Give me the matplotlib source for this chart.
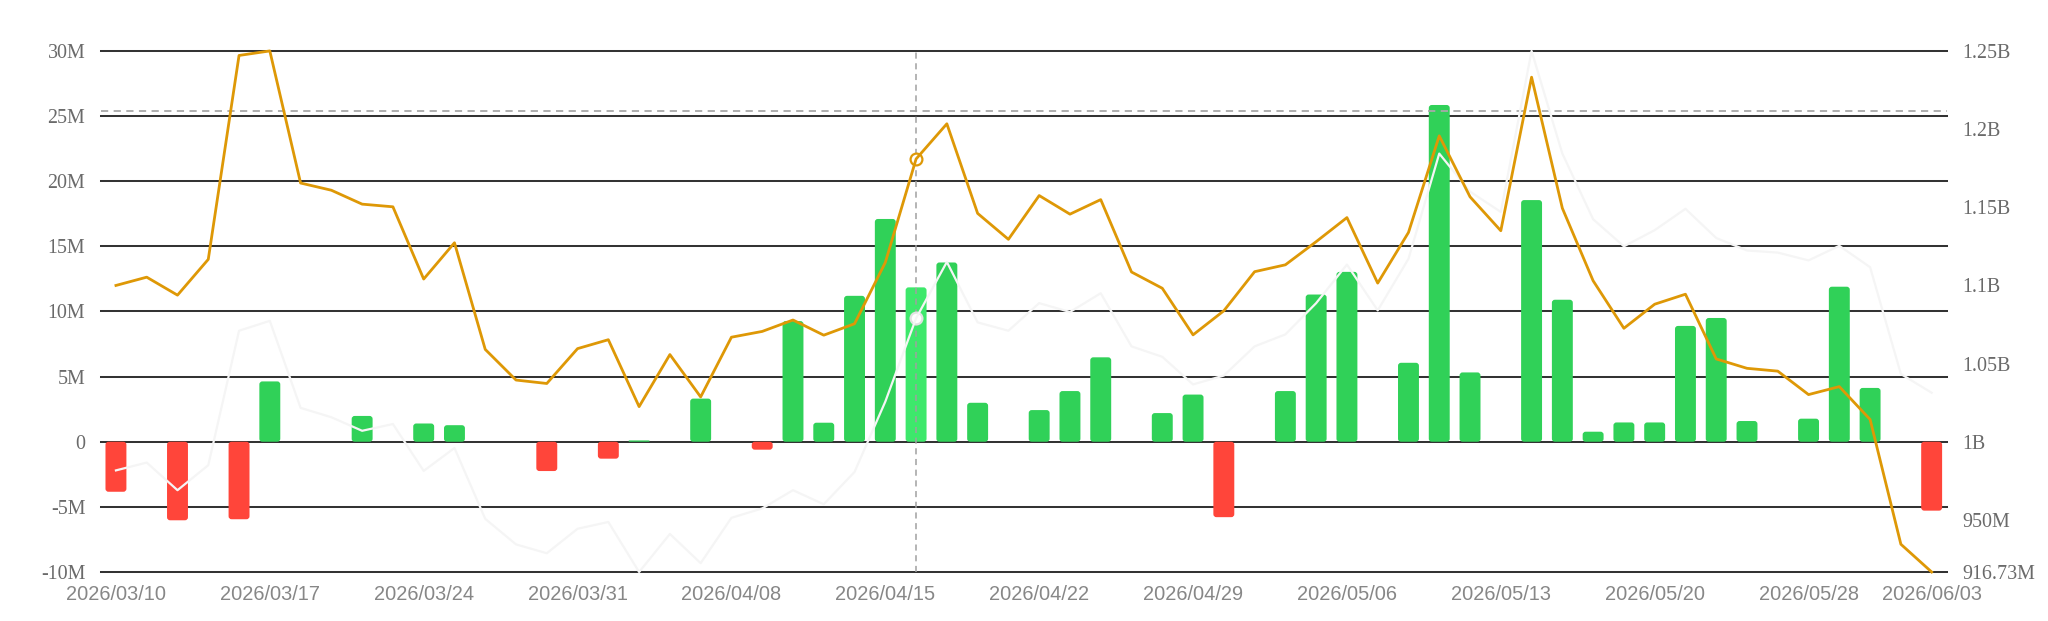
import matplotlib.pyplot as plt
from matplotlib.patches import FancyBboxPatch

# trading days shown on the category axis
dates = ['2026/03/10', '2026/03/11', '2026/03/12', '2026/03/13', '2026/03/16',
         '2026/03/17', '2026/03/18', '2026/03/19', '2026/03/20', '2026/03/23',
         '2026/03/24', '2026/03/25', '2026/03/26', '2026/03/27', '2026/03/30',
         '2026/03/31', '2026/04/01', '2026/04/02', '2026/04/06', '2026/04/07',
         '2026/04/08', '2026/04/09', '2026/04/10', '2026/04/13', '2026/04/14',
         '2026/04/15', '2026/04/16', '2026/04/17', '2026/04/20', '2026/04/21',
         '2026/04/22', '2026/04/23', '2026/04/24', '2026/04/27', '2026/04/28',
         '2026/04/29', '2026/04/30', '2026/05/01', '2026/05/04', '2026/05/05',
         '2026/05/06', '2026/05/07', '2026/05/08', '2026/05/11', '2026/05/12',
         '2026/05/13', '2026/05/14', '2026/05/15', '2026/05/18', '2026/05/19',
         '2026/05/20', '2026/05/21', '2026/05/22', '2026/05/26', '2026/05/27',
         '2026/05/28', '2026/05/29', '2026/06/01', '2026/06/02', '2026/06/03']

# daily net flow (millions) -> bars, left axis
net_flow = [-3.84, 0, -6.03, 0, -5.95, 4.63, 0, 0, 1.98, 0,
            1.40, 1.27, 0, 0, -2.25, 0, -1.30, 0.10, 0, 3.31,
            0, -0.61, 9.26, 1.46, 11.2, 17.1, 11.85, 13.76, 2.99, 0,
            2.43, 3.89, 6.48, 0, 2.2, 3.62, -5.79, 0, 3.89, 11.3,
            13.04, 0, 6.06, 25.85, 5.32, 0, 18.55, 10.9, 0.77, 1.48,
            1.48, 8.89, 9.5, 1.59, 0, 1.77, 11.9, 4.13, 0, -5.29]

# total holdings (millions) -> orange line, right axis
holdings = [1100.0, 1105.3, 1093.8, 1116.7, 1247.1, 1250.0, 1165.5, 1160.9, 1152.0, 1150.3,
            1104.1, 1127.3, 1059.1, 1039.5, 1037.3, 1059.6, 1065.3, 1022.5, 1055.8, 1028.7,
            1066.9, 1070.6, 1077.9, 1068.2, 1075.5, 1114.7, 1180.9, 1203.4, 1146.1, 1129.5,
            1157.5, 1145.6, 1154.9, 1108.6, 1098.2, 1068.4, 1083.8, 1108.8, 1113.2, 1128.0,
            1143.4, 1101.5, 1133.9, 1195.7, 1156.7, 1135.0, 1233.2, 1149.4, 1103.0, 1072.6,
            1088.0, 1094.4, 1053.0, 1047.0, 1045.2, 1030.2, 1035.3, 1014.3, 934.5, 916.73]

# faint white line on its own hidden scale (index units)
price = [19.5, 21.0, 15.7, 20.5, 46.3, 48.2, 31.5, 29.7, 27.1, 28.4,
         19.4, 23.8, 10.2, 5.3, 3.6, 8.3, 9.6, 0.0, 7.3, 1.7,
         10.4, 12.2, 15.7, 13.0, 19.2, 32.7, 48.7, 59.5, 47.9, 46.3,
         51.6, 49.9, 53.5, 43.3, 41.3, 36.0, 37.7, 43.3, 45.6, 51.6,
         59.0, 50.2, 60.1, 80.3, 73.0, 69.1, 100.0, 80.3, 67.7, 62.5,
         65.6, 69.7, 64.1, 61.7, 61.3, 59.8, 62.6, 58.5, 38.0, 34.4]

left_ticks = [-10, -5, 0, 5, 10, 15, 20, 25, 30]
left_labels = ['-10M', '-5M', '0', '5M', '10M', '15M', '20M', '25M', '30M']
right_ticks = [916.73, 950, 1000, 1050, 1100, 1150, 1200, 1250]
right_labels = ['916.73M', '950M', '1B', '1.05B', '1.1B', '1.15B', '1.2B', '1.25B']
label_idx = [0, 5, 10, 15, 20, 25, 30, 35, 40, 45, 50, 55, 59]

hover_idx = 26
hover_level = 25.4  # crosshair height on the left axis (M)

GREEN, RED, GREEN_HI = '#30D158', '#FF453A', '#3DE86B'
ORANGE = '#DE9806'

fig = plt.figure(figsize=(20.48, 6.21), dpi=100)
ax = fig.add_axes([0.0491, 0.0789, 0.9016, 0.8391])
x = list(range(len(dates)))

ax.set_xlim(-0.5, len(dates) - 0.5)
ax.set_ylim(left_ticks[0], left_ticks[-1])

colors = [GREEN if v >= 0 else RED for v in net_flow]
colors[hover_idx] = GREEN_HI
bars = ax.bar(x, net_flow, width=0.68, color=colors, zorder=2)

# swap plain rectangles for slightly rounded ones (~3px corners)
bbox = ax.get_window_extent()
px_x = bbox.width / (len(dates))          # pixels per category
px_y = bbox.height / (left_ticks[-1] - left_ticks[0])  # pixels per M
aspect = px_x / px_y
for b in bars:
    h = b.get_height()
    if h == 0:
        continue
    r = min(3.0 / px_x, abs(h) * px_y / px_x / 2.2)
    p = FancyBboxPatch((b.get_x(), min(0, h)), b.get_width(), abs(h),
                       boxstyle=f'round,pad=0,rounding_size={r}',
                       mutation_aspect=aspect, facecolor=b.get_facecolor(),
                       edgecolor='none', zorder=2)
    ax.add_patch(p)
    b.set_visible(False)

ax.set_yticks(left_ticks)
ax.set_yticklabels(left_labels, family='Liberation Serif', fontsize=14.4, color='#6a6a6a')
ax.set_xticks(label_idx)
ax.set_xticklabels([dates[i] for i in label_idx], family='Liberation Sans',
                   fontsize=14.4, color='#878787')
ax.tick_params(axis='both', length=0)
ax.tick_params(axis='y', pad=11)
ax.tick_params(axis='x', pad=9)
ax.grid(axis='y', color='#333333', linewidth=1.45)
ax.set_axisbelow(True)
for gl in ax.get_ygridlines():
    gl.set_clip_on(False)
for s in ax.spines.values():
    s.set_visible(False)

# crosshair
ax.axvline(hover_idx, color='#a0a0a0', linewidth=1.1, dashes=(4, 3), zorder=5)
ax.axhline(hover_level, color='#a8a8a8', linewidth=1.3, dashes=(4, 3), zorder=5)

# hidden axis for the faint line
axw = ax.twinx()
axw.set_ylim(min(price), max(price))
axw.axis('off')
axw.plot(x, price, color='#f5f5f5', linewidth=1.6, zorder=3, clip_on=False)
axw.plot(hover_idx, price[hover_idx], 'o', ms=8.5, mfc='white', mec='#e2e2e2', mew=1.6)

# right axis: holdings
axr = ax.twinx()
axr.set_ylim(min(holdings), max(holdings))
axr.set_yticks(right_ticks)
axr.set_yticklabels(right_labels, family='Liberation Serif', fontsize=14.4, color='#6a6a6a')
axr.tick_params(axis='y', length=0, pad=11)
for s in axr.spines.values():
    s.set_visible(False)
axr.plot(x, holdings, color=ORANGE, linewidth=2.0, zorder=4, clip_on=False)
axr.plot(hover_idx, holdings[hover_idx], 'o', ms=8.5, mfc='white', mec=ORANGE, mew=1.6)

fig.savefig('out.png', dpi=100)
